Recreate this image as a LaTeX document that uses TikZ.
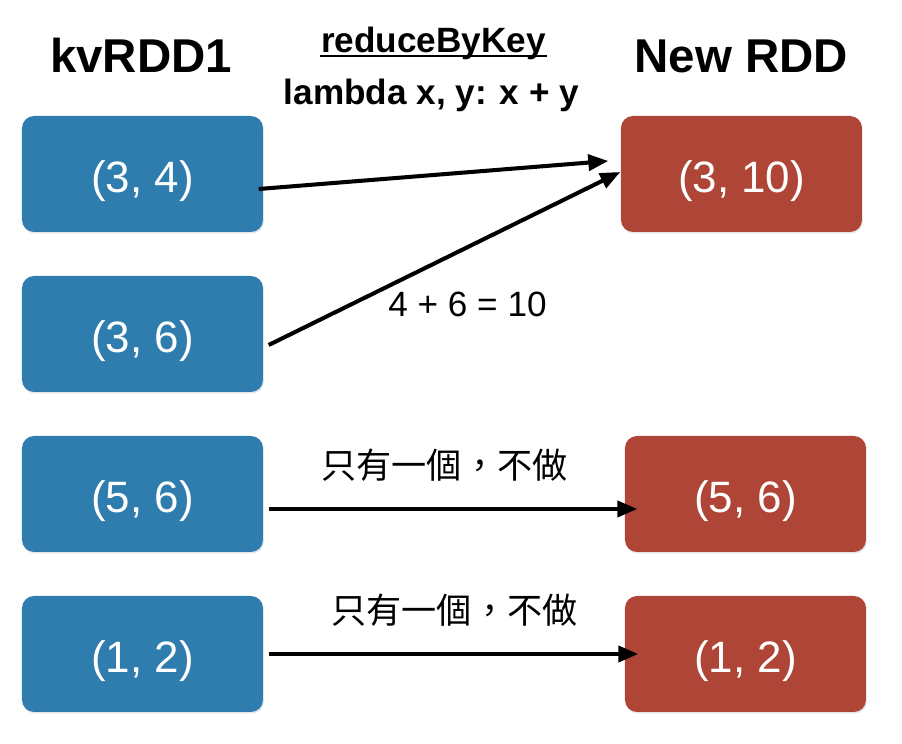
\documentclass[tikz,border=0pt]{standalone}
\usepackage{fontspec}
\setmainfont{Liberation Sans}
\newfontfamily\cjk{Noto Sans CJK TC}
\usetikzlibrary{arrows.meta, shadows}
\definecolor{kvblue}{RGB}{47,125,175}
\definecolor{kvred}{RGB}{174,69,54}

\begin{document}
\begin{tikzpicture} [scale = 1,
  pair/.style = {rounded corners = 0.12cm, minimum width = 2.41cm, minimum height = 1.16cm,
    inner sep = 0pt, text height = 0.42cm, text depth = 0.044cm,
    text = white, font = \fontsize{12.5}{15}\selectfont,
    drop shadow = {opacity = 0.2, shadow xshift = 0.01cm, shadow yshift = -0.015cm}},
  oldpair/.style = {pair, fill = kvblue},
  newpair/.style = {pair, fill = kvred},
  title/.style = {black, anchor = base, font = \fontsize{13.5}{16}\selectfont\bfseries},
  func/.style = {black, anchor = base, inner xsep = 0pt, font = \fontsize{10}{12}\selectfont\bfseries},
  note/.style = {black, font = \fontsize{10}{12}\selectfont},
  arr/.style = {black, line width = 1.15pt, -{Triangle[length = 2mm, width = 1.6mm]}}]
\useasboundingbox (0, 0) rectangle (9.02, 7.44);
\node[title] (kvtitle) at (1.41, 6.71){kvRDD1};
\node[title] (newtitle) at (7.415, 6.71){New RDD};
\node[func] (fname) at (4.335, 6.91){reduceByKey};
\node[func] (flambda) at (4.315, 6.39){lambda x, y: x + y};
% underline just below the baseline
\draw[black, line width = 0.6pt] ([yshift = -0.03cm]fname.base west) -- ([yshift = -0.03cm]fname.base east);
\node[oldpair] (b1) at (1.425, 5.70){(3, 4)};
\node[oldpair] (b2) at (1.425, 4.10){(3, 6)};
\node[oldpair] (b3) at (1.425, 2.50){(5, 6)};
\node[oldpair] (b4) at (1.425, 0.90){(1, 2)};
\node[newpair] (r1) at (7.415, 5.70){(3, 10)};
\node[newpair] (r3) at (7.455, 2.50){(5, 6)};
\node[newpair] (r4) at (7.455, 0.90){(1, 2)};
\node[note, anchor = base] (sum) at (4.675, 4.27){4 + 6 = 10};
\node[note] (skip3) at (4.445, 2.79){\cjk 只有一個，不做};
\node[note] (skip4) at (4.545, 1.34){\cjk 只有一個，不做};
\draw[arr] ([xshift = -0.05cm, yshift = -0.15cm]b1.east) -- ([xshift = -0.12cm, yshift = 0.13cm]r1.west);
\draw[arr] ([xshift = 0.05cm, yshift = -0.11cm]b2.east) -- ([yshift = 0.02cm]r1.west);
\draw[arr] ([xshift = 0.05cm, yshift = -0.15cm]b3.east) -- ([xshift = 0.13cm, yshift = -0.15cm]r3.west);
\draw[arr] ([xshift = 0.05cm]b4.east) -- ([xshift = 0.14cm]r4.west);
\end{tikzpicture}
\end{document}
